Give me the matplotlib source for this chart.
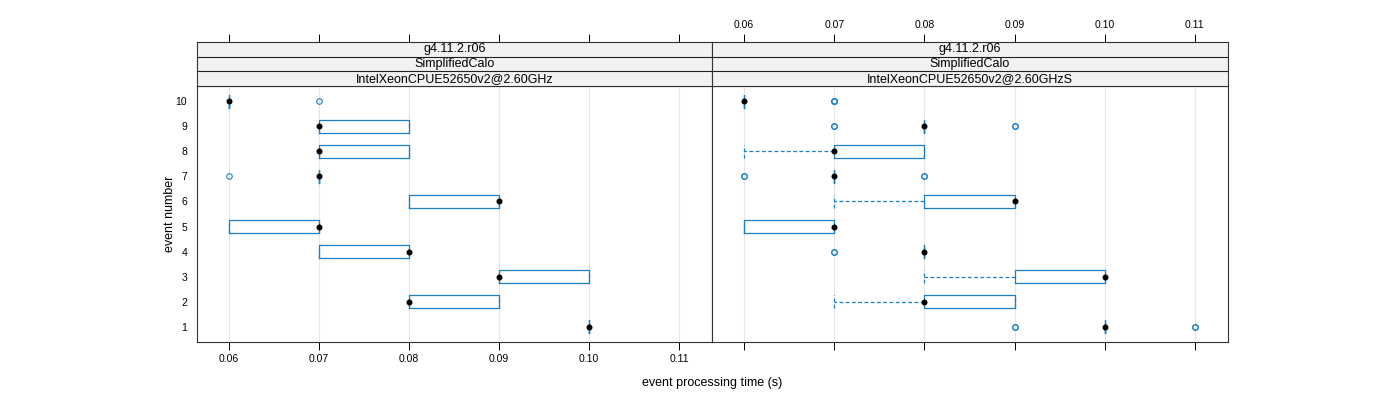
import matplotlib
matplotlib.use("Agg")
import matplotlib.pyplot as plt

plt.rcParams["font.family"] = ["Liberation Sans", "DejaVu Sans"]

events = [1, 2, 3, 4, 5, 6, 7, 8, 9, 10]
xticks = [0.06, 0.07, 0.08, 0.09, 0.10, 0.11]
strip_labels = ["g4.11.2.r06", "SimplifiedCalo"]
cpu_labels = ["IntelXeonCPUE52650v2@2.60GHz", "IntelXeonCPUE52650v2@2.60GHzS"]

# left panel (per event 1..10)
left_q1 = [0.10, 0.08, 0.09, 0.07, 0.06, 0.08, 0.07, 0.07, 0.07, 0.06]
left_med = [0.10, 0.08, 0.09, 0.08, 0.07, 0.09, 0.07, 0.07, 0.07, 0.06]
left_q3 = [0.10, 0.09, 0.10, 0.08, 0.07, 0.09, 0.07, 0.08, 0.08, 0.06]
left_wlo = [0.10, 0.08, 0.09, 0.07, 0.06, 0.08, 0.07, 0.07, 0.07, 0.06]
left_whi = [0.10, 0.09, 0.10, 0.08, 0.07, 0.09, 0.07, 0.08, 0.08, 0.06]
left_out = [[], [], [], [], [], [], [0.06], [], [], [0.07]]

# right panel
right_q1 = [0.10, 0.08, 0.09, 0.08, 0.06, 0.08, 0.07, 0.07, 0.08, 0.06]
right_med = [0.10, 0.08, 0.10, 0.08, 0.07, 0.09, 0.07, 0.07, 0.08, 0.06]
right_q3 = [0.10, 0.09, 0.10, 0.08, 0.07, 0.09, 0.07, 0.08, 0.08, 0.06]
right_wlo = [0.10, 0.07, 0.08, 0.08, 0.06, 0.07, 0.07, 0.06, 0.08, 0.06]
right_whi = [0.10, 0.09, 0.10, 0.08, 0.07, 0.09, 0.07, 0.08, 0.08, 0.06]
right_out = [[0.09, 0.09, 0.11, 0.11], [], [], [0.07, 0.07], [], [],
             [0.06, 0.06, 0.08, 0.08], [], [0.07, 0.07, 0.09, 0.09], [0.07, 0.07, 0.07]]

BLUE = "#1a7fc4"
W, H = 1400, 400
xlim = (0.05644, 0.11367)


def fx(px):
    return px / W


def fy(py):
    return 1 - py / H


def make_stats(wlo, q1, med, q3, whi, out):
    stats = []
    for i in range(len(events)):
        stats.append({"whislo": wlo[i], "q1": q1[i], "med": med[i], "mean": med[i],
                      "q3": q3[i], "whishi": whi[i], "fliers": out[i]})
    return stats


fig = plt.figure(figsize=(14, 4), dpi=100)

panels = [
    (197, 712, make_stats(left_wlo, left_q1, left_med, left_q3, left_whi, left_out), cpu_labels[0], False),
    (712, 1228, make_stats(right_wlo, right_q1, right_med, right_q3, right_whi, right_out), cpu_labels[1], True),
]

for i, (x0, x1, stats, cpu, top_labels) in enumerate(panels):
    ax = fig.add_axes([fx(x0), fy(342), fx(x1 - x0), (342 - 86) / H])
    for xv in xticks:
        ax.axvline(xv, color="#e6e6e6", lw=0.8, zorder=0)
    ax.bxp(stats, positions=events, orientation="horizontal", widths=0.52,
           capwidths=0.52, showmeans=True, patch_artist=False,
           boxprops=dict(color=BLUE, lw=0.9),
           whiskerprops=dict(color=BLUE, lw=0.9, ls=(0, (3, 2))),
           capprops=dict(color=BLUE, lw=0.9, ls=(0, (3, 2))),
           medianprops=dict(color="none", lw=0),
           meanprops=dict(marker="o", markerfacecolor="black", markeredgecolor="black",
                          markersize=3.3),
           flierprops=dict(marker="o", markerfacecolor="none", markeredgecolor=BLUE,
                           markersize=4.0, markeredgewidth=0.8))
    ax.set_xlim(*xlim)
    ax.set_ylim(0.4, 10.6)
    ax.set_xticks(xticks)
    ax.set_yticks(events)
    ax.tick_params(axis="x", direction="out", length=6, width=0.7, labelsize=7.5, pad=3)
    ax.tick_params(axis="y", length=0, labelsize=7.5, pad=7)
    if i == 0:
        ax.set_xticklabels(["%.2f" % v for v in xticks])
        ax.set_yticklabels([str(e) for e in events])
    else:
        ax.set_xticklabels([])
        ax.set_yticklabels([])
    for s in ax.spines.values():
        s.set_color("#333333")
        s.set_linewidth(0.8)

    # strips
    sax = fig.add_axes([fx(x0), fy(86), fx(x1 - x0), (86 - 42) / H])
    sax.set_facecolor("#f2f2f2")
    sax.set_xlim(*xlim)
    sax.set_ylim(0, 3)
    labels = [cpu, strip_labels[1], strip_labels[0]]
    for k, lab in enumerate(labels):
        sax.text(sum(xlim) / 2, k + 0.5, lab, ha="center", va="center", fontsize=9)
    for k in (1, 2):
        sax.axhline(k, color="#222222", lw=0.8)
    sax.set_yticks([])
    sax.set_xticks(xticks)
    sax.xaxis.tick_top()
    sax.tick_params(axis="x", direction="out", length=6, width=0.7, labelsize=7.5, pad=3)
    if top_labels:
        sax.set_xticklabels(["%.2f" % v for v in xticks])
    else:
        sax.set_xticklabels([])
    for s in sax.spines.values():
        s.set_color("#333333")
        s.set_linewidth(0.8)

fig.text(fx(712), fy(383), "event processing time (s)", ha="center", va="center", fontsize=9)
fig.text(fx(170), fy(214), "event number", ha="center", va="center", rotation=90, fontsize=9)

fig.savefig("out.png", dpi=100)
